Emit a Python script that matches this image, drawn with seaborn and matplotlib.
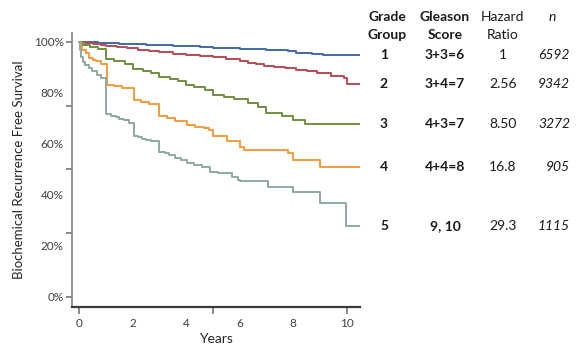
import numpy as np
import pandas as pd
import matplotlib
matplotlib.use("Agg")
import matplotlib.pyplot as plt
import matplotlib.transforms as mtransforms
import seaborn as sns

# ---------------- data ----------------
groups = ["1", "2", "3", "4", "5"]
gleason_scores = ["3+3=6", "3+4=7", "4+3=7", "4+4=8", "9, 10"]
hazard_ratios = ["1", "2.56", "8.50", "16.8", "29.3"]
n_values = ["6592", "9342", "3272", "905", "1115"]

t_gg1 = [0, 0.3, 0.7, 1.0, 1.5, 2.0, 2.5, 3.0, 3.5, 4.0, 4.5, 5.0, 5.5, 6.0, 6.5, 7.0, 7.4, 7.8, 8.1, 8.3, 8.7, 9.1, 10.5]
s_gg1 = [1.0, 0.998, 0.996, 0.994, 0.992, 0.990, 0.988, 0.986, 0.984, 0.982, 0.980, 0.978, 0.976, 0.974, 0.972, 0.970, 0.967, 0.963, 0.958, 0.955, 0.952, 0.950, 0.950]

t_gg2 = [0, 0.2, 0.5, 0.8, 1.0, 1.4, 1.8, 2.2, 2.6, 3.0, 3.5, 4.0, 4.5, 5.0, 5.5, 6.0, 6.3, 6.6, 6.9, 7.3, 7.7, 8.1, 8.5, 8.9, 9.4, 9.9, 10.0, 10.5]
s_gg2 = [1.0, 0.996, 0.992, 0.988, 0.985, 0.980, 0.975, 0.970, 0.965, 0.960, 0.954, 0.949, 0.945, 0.941, 0.932, 0.924, 0.918, 0.912, 0.907, 0.901, 0.896, 0.891, 0.884, 0.876, 0.868, 0.859, 0.835, 0.835]

t_gg3 = [0, 0.15, 0.4, 0.7, 1.0, 1.3, 1.7, 2.0, 2.4, 2.7, 3.0, 3.4, 3.7, 4.0, 4.3, 4.7, 5.0, 5.4, 5.8, 6.3, 6.7, 7.0, 7.6, 8.0, 8.43, 10.5]
s_gg3 = [1.0, 0.988, 0.980, 0.972, 0.932, 0.925, 0.915, 0.895, 0.887, 0.878, 0.862, 0.855, 0.847, 0.830, 0.822, 0.810, 0.790, 0.783, 0.774, 0.760, 0.745, 0.721, 0.709, 0.694, 0.678, 0.678]

t_gg4 = [0, 0.05, 0.12, 0.24, 0.36, 0.5, 0.61, 0.8, 1.04, 1.3, 1.6, 2.04, 2.3, 2.6, 3.0, 3.3, 3.6, 4.03, 4.34, 4.65, 4.85, 5.0, 5.51, 6.0, 6.18, 7.8, 8.0, 9.0, 10.5]
s_gg4 = [1.0, 0.985, 0.970, 0.957, 0.937, 0.930, 0.924, 0.915, 0.832, 0.825, 0.818, 0.770, 0.763, 0.755, 0.708, 0.700, 0.690, 0.674, 0.667, 0.661, 0.654, 0.630, 0.609, 0.589, 0.576, 0.565, 0.537, 0.508, 0.508]

t_gg5 = [0, 0.03, 0.08, 0.15, 0.22, 0.35, 0.49, 0.66, 0.8, 1.0, 1.2, 1.36, 1.5, 1.67, 1.86, 2.05, 2.2, 2.35, 2.5, 2.67, 3.0, 3.2, 3.35, 3.6, 3.8, 4.04, 4.3, 4.6, 4.9, 5.2, 5.45, 5.7, 5.95, 6.0, 7.06, 8.0, 9.0, 9.99, 10.5]
s_gg5 = [1.0, 0.970, 0.940, 0.920, 0.910, 0.897, 0.885, 0.870, 0.858, 0.715, 0.710, 0.704, 0.699, 0.694, 0.681, 0.631, 0.625, 0.618, 0.613, 0.609, 0.569, 0.562, 0.556, 0.543, 0.538, 0.524, 0.518, 0.510, 0.491, 0.487, 0.484, 0.471, 0.458, 0.452, 0.432, 0.410, 0.369, 0.275, 0.275]

times = [t_gg1, t_gg2, t_gg3, t_gg4, t_gg5]
survs = [s_gg1, s_gg2, s_gg3, s_gg4, s_gg5]

x_label_values = [0, 2, 4, 6, 8, 10]
x_tick_marks = [0, 5, 10]
y_label_values = [0, 0.2, 0.4, 0.6, 0.8, 1.0]
y_label_text = ["0%", "20%", "40%", "60%", "80%", "100%"]
y_tick_marks = [0, 0.25, 0.5, 0.75, 1.0]

colors = ["#3f68a4", "#b84a56", "#6f8f3e", "#f59b3c", "#8eaaa0"]

# ---------------- figure ----------------
sns.set_theme(style="white")
plt.rcParams["font.family"] = ["Lato", "DejaVu Sans"]

fig = plt.figure(figsize=(5.77, 3.45), dpi=100)
ax = fig.add_axes([72 / 577, 1 - 306.7 / 345, (360 - 72) / 577, (306.7 - 33) / 345])

df = pd.concat(
    [pd.DataFrame({"Years": t, "Survival": s, "Group": g}) for t, s, g in zip(times, survs, groups)],
    ignore_index=True,
)
sns.lineplot(data=df, x="Years", y="Survival", hue="Group", palette=colors,
             estimator=None, sort=False, drawstyle="steps-post", lw=1.4,
             legend=False, ax=ax)

ax.set_xlim(-0.27, 10.5)
ax.set_ylim(-0.04, 1.035)

ax.xaxis.remove_overlapping_locs = False
ax.yaxis.remove_overlapping_locs = False

# tick marks (major) without labels
ax.set_xticks(x_tick_marks)
ax.set_xticklabels([])
ax.set_yticks(y_tick_marks)
ax.set_yticklabels([])
ax.tick_params(axis="x", which="major", direction="out", length=5, width=1.3, color="#7f7f7f", bottom=True)
ax.tick_params(axis="y", which="major", direction="out", length=4, width=1.3, color="#7f7f7f", left=True)

# labels (minor) without tick marks
ax.set_xticks(x_label_values, minor=True)
ax.set_xticklabels([str(v) for v in x_label_values], minor=True)
ax.set_yticks(y_label_values, minor=True)
ax.set_yticklabels(y_label_text, minor=True)
ax.tick_params(axis="x", which="minor", length=0, pad=8, labelsize=8.5, labelcolor="#404040", bottom=True)
ax.tick_params(axis="y", which="minor", length=0, pad=6, labelsize=8.5, labelcolor="#404040", left=True)

for side in ["top", "right"]:
    ax.spines[side].set_visible(False)
ax.spines["left"].set_color("#8a8a8a")
ax.spines["left"].set_linewidth(1.3)
ax.spines["bottom"].set_color("#3a3a3a")
ax.spines["bottom"].set_linewidth(1.6)
ax.grid(False)

ax.set_xlabel("Years", fontsize=10, color="#262626", labelpad=3)
ax.set_ylabel("Biochemical Recurrence Free Survival", fontsize=9.5, color="#262626", labelpad=6)

# ---------------- table on the right ----------------
def fx(px):
    return px / 577

def fy(py):
    return 1 - py / 345

hdr = dict(fontsize=10, color="#1a1a1a", ha="center", va="center")
fig.text(fx(387), fy(16.7), "Grade", fontweight="bold", **hdr)
fig.text(fx(387), fy(35), "Group", fontweight="bold", **hdr)
fig.text(fx(445), fy(16.7), "Gleason", fontweight="bold", **hdr)
fig.text(fx(445), fy(35), "Score", fontweight="bold", **hdr)
fig.text(fx(503), fy(16.7), "Hazard", **hdr)
fig.text(fx(503), fy(35), "Ratio", **hdr)
fig.text(fx(552), fy(16.7), "n", fontstyle="italic", **hdr)

trans = mtransforms.blended_transform_factory(fig.transFigure, ax.transData)
for g, gs, hr, n, s in zip(groups, gleason_scores, hazard_ratios, n_values, survs):
    yv = s[-1]
    fig.text(fx(384), yv, g, transform=trans, fontweight="bold", **hdr)
    fig.text(fx(445), yv, gs, transform=trans, fontweight="bold", **hdr)
    fig.text(fx(503), yv, hr, transform=trans, **hdr)
    fig.text(fx(570), yv, n, transform=trans, fontstyle="italic",
             fontsize=10, color="#1a1a1a", ha="right", va="center")

fig.savefig("out.png", dpi=100)
